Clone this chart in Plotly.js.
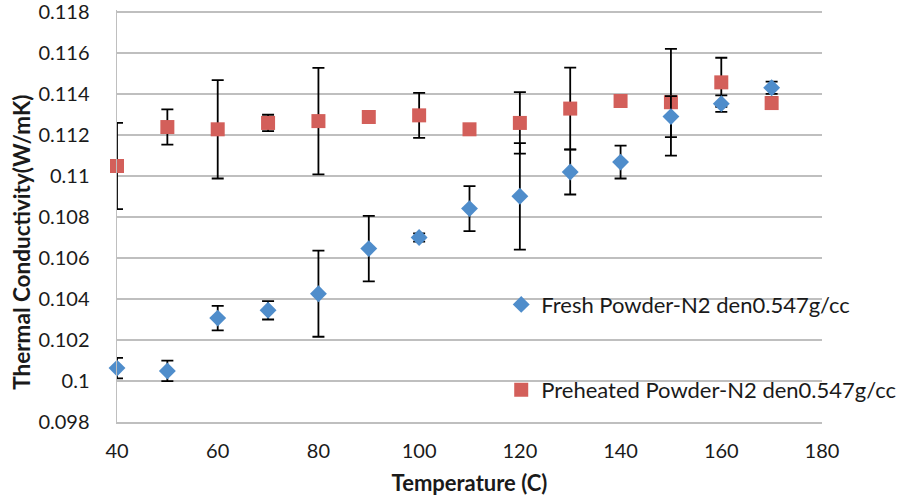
<!DOCTYPE html>
<html>
<head>
<meta charset="utf-8">
<script src="https://cdn.plot.ly/plotly-3.0.1.min.js"></script>
<style>html,body{margin:0;padding:0;background:#fff;}#chart{width:902px;height:499px;}</style>
</head>
<body>
<div id="chart"></div>
<script>
const temperature = [40, 50, 60, 70, 80, 90, 100, 110, 120, 130, 140, 150, 160, 170];
const freshValues = [0.10063, 0.10049, 0.10307, 0.10345, 0.10426, 0.10646, 0.10700, 0.10841, 0.10901, 0.11020, 0.11068, 0.11290, 0.11353, 0.11431];
const freshErrors = [0.0005, 0.0005, 0.0006, 0.00045, 0.0021, 0.0016, 0.0002, 0.0011, 0.0026, 0.0011, 0.0008, 0.0010, 0.0004, 0.0003];
const preheatedValues = [0.11049, 0.11239, 0.11228, 0.11259, 0.11268, 0.11288, 0.11296, 0.11228, 0.11259, 0.11329, 0.11366, 0.11360, 0.11457, 0.11356];
const preheatedErrors = [0.0021, 0.00086, 0.0024, 0.0004, 0.0026, 0.0001, 0.0011, 0.0001, 0.0015, 0.0020, 0.0001, 0.0026, 0.0012, 0.0003];
const yTicks = [0.098, 0.1, 0.102, 0.104, 0.106, 0.108, 0.11, 0.112, 0.114, 0.116, 0.118];
const yTickText = ["0.098", "0.1", "0.102", "0.104", "0.106", "0.108", "0.11", "0.112", "0.114", "0.116", "0.118"];
const xTicks = [40, 60, 80, 100, 120, 140, 160, 180];
const yTitle = 'Thermal Conductivity(W/mK)';
const xTitle = 'Temperature (C)';

const FONT = "Lato, 'Open Sans', sans-serif";
const TXT = '#1a1a1a';
const errStyle = {type: 'data', visible: true, color: '#000000', thickness: 1.8, width: 6};

const traces = [
  {
    x: temperature, y: preheatedValues, type: 'scatter', mode: 'markers', cliponaxis: false,
    name: 'Preheated Powder-N2 den0.547g/cc', legend: 'legend2',
    marker: {symbol: 'square', size: 14, color: '#D35F5A'},
    error_y: Object.assign({array: preheatedErrors}, errStyle)
  },
  {
    x: temperature, y: freshValues, type: 'scatter', mode: 'markers', cliponaxis: false,
    name: 'Fresh Powder-N2 den0.547g/cc', legend: 'legend',
    marker: {symbol: 'diamond', size: 13, color: '#4F8DCB'},
    error_y: Object.assign({array: freshErrors}, errStyle)
  }
];

const layout = {
  width: 902, height: 499,
  margin: {l: 117, r: 80, t: 10, b: 77, autoexpand: false},
  paper_bgcolor: '#ffffff', plot_bgcolor: '#ffffff',
  font: {family: FONT, size: 20, color: TXT},
  showlegend: true,
  legend: {x: 0.545, y: 0.285, xanchor: 'left', yanchor: 'middle', bgcolor: 'rgba(0,0,0,0)',
           font: {family: FONT, size: 22, color: TXT}},
  legend2: {x: 0.545, y: 0.078, xanchor: 'left', yanchor: 'middle', bgcolor: 'rgba(0,0,0,0)',
            font: {family: FONT, size: 22, color: TXT}},
  xaxis: {
    range: [40, 180], tickvals: xTicks, ticktext: xTicks.map(String),
    showgrid: false, zeroline: false, showline: true, linecolor: '#BFBFBF', linewidth: 1.5,
    ticks: '', ticklabelstandoff: 10, automargin: false, ticklabeloverflow: 'allow',
    tickfont: {family: FONT, size: 20, color: TXT},
    title: {text: '<b>' + xTitle + '</b>', font: {family: FONT, size: 22, color: TXT}, standoff: 15}
  },
  yaxis: {
    range: [0.098, 0.1181], tickvals: yTicks, ticktext: yTickText,
    showgrid: true, gridcolor: '#BFBFBF', gridwidth: 1.5,
    zeroline: false, showline: true, linecolor: '#BFBFBF', linewidth: 1.5,
    ticks: '', ticklabelstandoff: 22, automargin: false, ticklabeloverflow: 'allow',
    tickfont: {family: FONT, size: 20, color: TXT}
  },
  annotations: [{
    text: '<b>' + yTitle + '</b>', textangle: -90, showarrow: false,
    xref: 'paper', yref: 'paper', x: -0.135, y: 0.437, xanchor: 'center', yanchor: 'middle',
    font: {family: FONT, size: 22.5, color: TXT}
  }]
};

Plotly.newPlot('chart', traces, layout, {displayModeBar: false, staticPlot: true});
</script>
</body>
</html>
